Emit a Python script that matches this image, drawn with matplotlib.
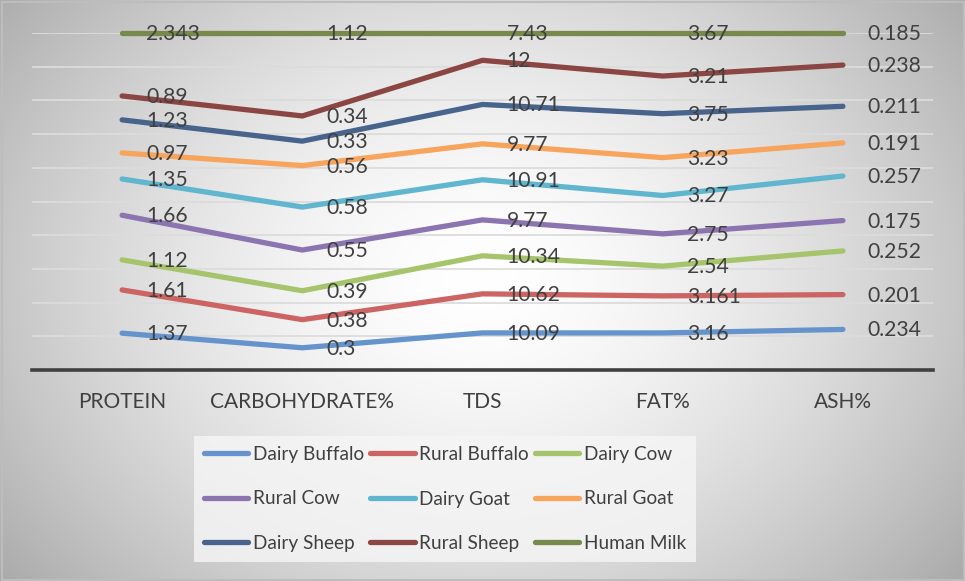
import numpy as np
import matplotlib
matplotlib.use("Agg")
import matplotlib.pyplot as plt
from matplotlib.lines import Line2D
from matplotlib.patches import Rectangle

plt.rcParams['font.family'] = ['Lato', 'DejaVu Sans']

categories = ["PROTEIN", "CARBOHYDRATE%", "TDS", "FAT%", "ASH%"]

dairy_buffalo = [1.37, 0.3, 10.09, 3.16, 0.234]
rural_buffalo = [1.61, 0.38, 10.62, 3.161, 0.201]
dairy_cow = [1.12, 0.39, 10.34, 2.54, 0.252]
rural_cow = [1.66, 0.55, 9.77, 2.75, 0.175]
dairy_goat = [1.35, 0.58, 10.91, 3.27, 0.257]
rural_goat = [0.97, 0.56, 9.77, 3.23, 0.191]
dairy_sheep = [1.23, 0.33, 10.71, 3.75, 0.211]
rural_sheep = [0.89, 0.34, 12, 3.21, 0.238]
human_milk = [2.343, 1.12, 7.43, 3.67, 0.185]

series_names = ["Dairy Buffalo", "Rural Buffalo", "Dairy Cow", "Rural Cow",
                "Dairy Goat", "Rural Goat", "Dairy Sheep", "Rural Sheep",
                "Human Milk"]
series_values = [dairy_buffalo, rural_buffalo, dairy_cow, rural_cow,
                 dairy_goat, rural_goat, dairy_sheep, rural_sheep, human_milk]
colors = ["#6594CC", "#CB6462", "#A6C46B", "#8C74B0", "#60B6CE",
          "#F7A45D", "#48648C", "#8B4644", "#778A4B"]

W, H, DPI = 965, 581, 100
fig = plt.figure(figsize=(W / DPI, H / DPI), dpi=DPI)

# radial grey-to-white background
bg = fig.add_axes([0, 0, 1, 1], zorder=-10)
yy, xx = np.mgrid[0:H, 0:W]
d = np.sqrt(((xx - 480) / 540.0) ** 2 + ((yy - 280) / 420.0) ** 2)
shade = 1.0 - 0.27 * np.clip(d, 0, 1.2) ** 1.6
bg.imshow(np.dstack([shade] * 3), extent=[0, W, H, 0], aspect="auto",
          interpolation="bilinear")
bg.add_patch(Rectangle((1.5, 1.5), W - 3, H - 3, fill=False,
                       edgecolor="#BDBDBD", lw=1.5))
bg.set_xlim(0, W)
bg.set_ylim(H, 0)
bg.axis("off")

ax = fig.add_axes([32 / W, 1 - 370 / H, (933 - 32) / W, (370 - 33) / H])
ax.patch.set_alpha(0)

x = np.arange(len(categories))
vals = np.array(series_values, dtype=float)
shares = np.cumsum(vals, axis=0) / vals.sum(axis=0)

for yg in np.arange(0.1, 1.01, 0.1):
    ax.axhline(yg, color="#DCDCDC", lw=1.3, zorder=0)

for i, name in enumerate(series_names):
    ax.plot(x, shares[i], color=colors[i], lw=3.8, solid_capstyle="round",
            solid_joinstyle="round", clip_on=False, zorder=3)
    for j in range(len(categories)):
        ax.annotate(f"{vals[i, j]:g}", (x[j], shares[i, j]),
                    xytext=(17.3, -0.7), textcoords="offset points",
                    ha="left", va="center", fontsize=15.2, color="#404040",
                    zorder=5, annotation_clip=False)

ax.set_xlim(-0.5, len(categories) - 0.5)
ax.set_ylim(0, 1)
ax.set_yticks([])
ax.set_xticks(x)
ax.set_xticklabels(categories, fontsize=15, color="#404040")
ax.tick_params(axis="x", length=0, pad=16)
for s in ["top", "right", "left"]:
    ax.spines[s].set_visible(False)
ax.spines["bottom"].set_color("#404040")
ax.spines["bottom"].set_linewidth(2.6)

# legend reads row by row, three entries per row
ncol = 3
nrow = int(np.ceil(len(series_names) / ncol))
order = [r * ncol + c for c in range(ncol) for r in range(nrow)]
handles = [Line2D([0], [0], color=colors[k], lw=3.8, solid_capstyle="round")
           for k in order]
labels = [series_names[k] for k in order]
leg = fig.legend(handles, labels, loc="center", ncol=ncol,
                 bbox_to_anchor=((196 + 694) / 2 / W, 1 - 499 / H),
                 fontsize=13.7, frameon=True, fancybox=False,
                 handlelength=2.35, handletextpad=0.25, columnspacing=0.3,
                 labelspacing=1.45, borderpad=0.5)
leg.get_frame().set_facecolor("#F6F6F6")
leg.get_frame().set_edgecolor("none")
for t in leg.get_texts():
    t.set_color("#404040")

fig.savefig("out.png", dpi=DPI)
